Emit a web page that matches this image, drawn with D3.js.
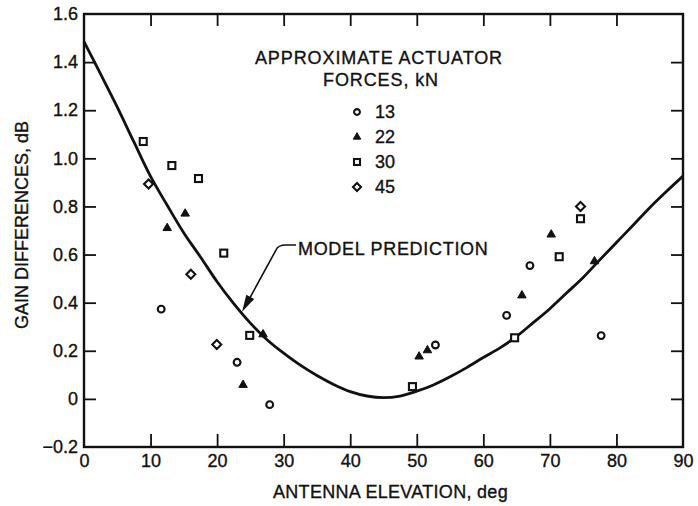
<!DOCTYPE html>
<html>
<head>
<meta charset="utf-8">
<script src="https://cdn.jsdelivr.net/npm/d3@7/dist/d3.min.js"></script>
<style>
  html, body { margin: 0; padding: 0; background: #fff; }
  svg text { font-family: "Liberation Sans", Arial, Helvetica, sans-serif; fill: #111; stroke: #111; stroke-width: 0.35px; }
</style>
</head>
<body>
<svg id="chart" width="698" height="506"></svg>
<script>
// ---- Data ----
const xTicks = [0, 10, 20, 30, 40, 50, 60, 70, 80, 90];
const yTicks = [-0.2, 0, 0.2, 0.4, 0.6, 0.8, 1.0, 1.2, 1.4, 1.6];
const yTickLabels = ["\u22120.2", "0", "0.2", "0.4", "0.6", "0.8", "1.0", "1.2", "1.4", "1.6"];

const legendLabels = ["13", "22", "30", "45"];

// Actuator force 13 kN (open circles)
const force13 = [[11.6, 0.373], [23.0, 0.152], [27.9, -0.024], [52.8, 0.224], [63.5, 0.347], [67.0, 0.554], [77.7, 0.263]];
// 22 kN (filled triangles)
const force22 = [[12.5, 0.71], [15.2, 0.77], [23.9, 0.058], [26.9, 0.268], [50.35, 0.176], [51.6, 0.202], [65.8, 0.43], [70.2, 0.683], [76.7, 0.572]];
// 30 kN (open squares)
const force30 = [[8.9, 1.07], [13.2, 0.97], [17.2, 0.916], [21.0, 0.606], [24.9, 0.264], [49.35, 0.051], [64.7, 0.254], [71.4, 0.591], [74.6, 0.749]];
// 45 kN (open diamonds)
const force45 = [[9.7, 0.893], [16.05, 0.518], [19.95, 0.226], [74.6, 0.80]];

// Model prediction curve
const modelX = [0, 2.5, 5, 7.5, 10, 12.5, 15, 17.5, 20, 22.5, 25, 27.5, 30, 32.5, 35, 37.5, 40, 42.5, 45, 47.5, 50, 52.5, 55, 57.5, 60, 62.5, 65, 67.5, 70, 72.5, 75, 77.5, 80, 82.5, 85, 87.5, 90];
const modelY = [1.485, 1.35, 1.213, 1.068, 0.925, 0.805, 0.69, 0.59, 0.487, 0.396, 0.315, 0.246, 0.19, 0.14, 0.097, 0.06, 0.03, 0.012, 0.005, 0.012, 0.032, 0.058, 0.092, 0.13, 0.172, 0.212, 0.26, 0.317, 0.375, 0.44, 0.505, 0.578, 0.65, 0.722, 0.795, 0.862, 0.926];

// annotation anchors in data units
const annoText = "MODEL PREDICTION";
const annoTextAt = [32.15, 0.598];
const annoTipAt = [23.75, 0.362];

// ---- Layout ----
const svg = d3.select("#chart");
const x = d3.scaleLinear().domain([0, 90]).range([84, 683]);
const y = d3.scaleLinear().domain([-0.2, 1.6]).range([447, 14]);
const FS = 18;

const g = svg.append("g");

// frame
g.append("rect")
  .attr("x", x(0)).attr("y", y(1.6))
  .attr("width", x(90) - x(0)).attr("height", y(-0.2) - y(1.6))
  .attr("fill", "none").attr("stroke", "#111").attr("stroke-width", 2.4);

// bottom axis (ticks inward)
const xAxisB = d3.axisBottom(x).tickValues(xTicks).tickSize(-13).tickPadding(7).tickFormat(d3.format("d"));
const gxb = g.append("g").attr("transform", `translate(0,${y(-0.2)})`).call(xAxisB);
gxb.select(".domain").remove();
gxb.selectAll(".tick line").attr("stroke", "#111").attr("stroke-width", 1.8);
gxb.selectAll(".tick text").attr("font-size", FS).attr("fill", "#111");
gxb.selectAll(".tick").filter(d => d === 0 || d === 90).select("line").remove();

// top axis (ticks inward)
const xAxisT = d3.axisTop(x).tickValues(xTicks.filter(d => d > 0 && d < 90)).tickSize(-12).tickFormat("");
const gxt = g.append("g").attr("transform", `translate(0,${y(1.6)})`).call(xAxisT);
gxt.select(".domain").remove();
gxt.selectAll(".tick line").attr("stroke", "#111").attr("stroke-width", 1.8);

// left axis
const yAxisL = d3.axisLeft(y).tickValues(yTicks).tickSize(-12).tickPadding(6)
  .tickFormat((d, i) => yTickLabels[i]);
const gyl = g.append("g").attr("transform", `translate(${x(0)},0)`).call(yAxisL);
gyl.select(".domain").remove();
gyl.selectAll(".tick line").attr("stroke", "#111").attr("stroke-width", 1.8);
gyl.selectAll(".tick text").attr("font-size", FS).attr("fill", "#111");
gyl.selectAll(".tick").filter(d => d === -0.2 || d === 1.6).select("line").remove();

// right axis
const yAxisR = d3.axisRight(y).tickValues(yTicks.filter(d => d > -0.2 && d < 1.6)).tickSize(-12).tickFormat("");
const gyr = g.append("g").attr("transform", `translate(${x(90)},0)`).call(yAxisR);
gyr.select(".domain").remove();
gyr.selectAll(".tick line").attr("stroke", "#111").attr("stroke-width", 1.8);

// axis titles
g.append("text")
  .attr("x", (x(0) + x(90)) / 2 + 7).attr("y", 498)
  .attr("text-anchor", "middle").attr("font-size", FS).attr("letter-spacing", 0.3)
  .text("ANTENNA ELEVATION, deg");
g.append("text")
  .attr("transform", `translate(28,${225}) rotate(-90)`)
  .attr("text-anchor", "middle").attr("font-size", FS)
  .text("GAIN DIFFERENCES, dB");

// model curve
const modelPts = modelX.map((v, i) => [v, modelY[i]]);
const line = d3.line().x(d => x(d[0])).y(d => y(d[1])).curve(d3.curveCatmullRom.alpha(0.5));
g.append("path").datum(modelPts)
  .attr("d", line).attr("fill", "none").attr("stroke", "#111").attr("stroke-width", 2.8);

// markers
function drawCircle(sel, r) {
  sel.append("circle").attr("r", r).attr("fill", "#fff").attr("stroke", "#111").attr("stroke-width", 2.1);
}
function drawTriangle(sel, s) {
  const h = s * Math.sqrt(3) / 2;
  sel.append("path").attr("d", `M0,${-h * 2 / 3}L${s / 2},${h / 3}L${-s / 2},${h / 3}Z`)
    .attr("fill", "#111").attr("stroke", "#111").attr("stroke-width", 1);
}
function drawSquare(sel, s) {
  sel.append("rect").attr("x", -s / 2).attr("y", -s / 2).attr("width", s).attr("height", s)
    .attr("fill", "#fff").attr("stroke", "#111").attr("stroke-width", 2.1);
}
function drawDiamond(sel, s) {
  sel.append("path").attr("d", `M0,${-s}L${s},0L0,${s}L${-s},0Z`)
    .attr("fill", "#fff").attr("stroke", "#111").attr("stroke-width", 2.1);
}

const series = [
  { data: force13, draw: s => drawCircle(s, 3.4), leg: s => drawCircle(s, 2.9) },
  { data: force22, draw: s => drawTriangle(s, 8.5), leg: s => drawTriangle(s, 7.5) },
  { data: force30, draw: s => drawSquare(s, 7), leg: s => drawSquare(s, 6) },
  { data: force45, draw: s => drawDiamond(s, 4.5), leg: s => drawDiamond(s, 4) }
];

series.forEach(ser => {
  g.append("g").selectAll("g").data(ser.data).join("g")
    .attr("transform", d => `translate(${x(d[0])},${y(d[1])})`)
    .each(function () { ser.draw(d3.select(this)); });
});

// legend
const legend = g.append("g");
legend.append("text").attr("x", 379).attr("y", 64).attr("text-anchor", "middle")
  .attr("font-size", FS).attr("letter-spacing", 0.9).text("APPROXIMATE ACTUATOR");
legend.append("text").attr("x", 381).attr("y", 86).attr("text-anchor", "middle")
  .attr("font-size", FS).attr("letter-spacing", 0.9).text("FORCES, kN");
series.forEach((ser, i) => {
  const row = legend.append("g").attr("transform", `translate(357,${112 + i * 25})`);
  ser.leg(row);
  row.append("text").attr("x", 18).attr("y", 0).attr("dy", "0.36em")
    .attr("font-size", FS).text(legendLabels[i]);
});

// annotation
const tx = x(annoTextAt[0]), ty = y(annoTextAt[1]);
g.append("text").attr("x", tx).attr("y", ty).attr("font-size", FS).attr("letter-spacing", 0.7).text(annoText);
const tipX = x(annoTipAt[0]), tipY = y(annoTipAt[1]);
const sx = tx - 2, sy = ty - 10;
const kx = sx - 20, ky = sy + 5;
g.append("path")
  .attr("d", `M${sx},${sy}L${sx - 10},${sy}Q${sx - 18},${sy} ${kx},${ky}L${tipX + 4},${tipY - 7}`)
  .attr("fill", "none").attr("stroke", "#111").attr("stroke-width", 1.6);
// arrow head
const ang = Math.atan2(tipY - ky, tipX - kx);
const L = 17, W = 4.5;
const bx = tipX - L * Math.cos(ang), by = tipY - L * Math.sin(ang);
const px = -Math.sin(ang) * W, py = Math.cos(ang) * W;
g.append("path")
  .attr("d", `M${tipX},${tipY}L${bx + px},${by + py}L${bx - px},${by - py}Z`)
  .attr("fill", "#111");
</script>
</body>
</html>
